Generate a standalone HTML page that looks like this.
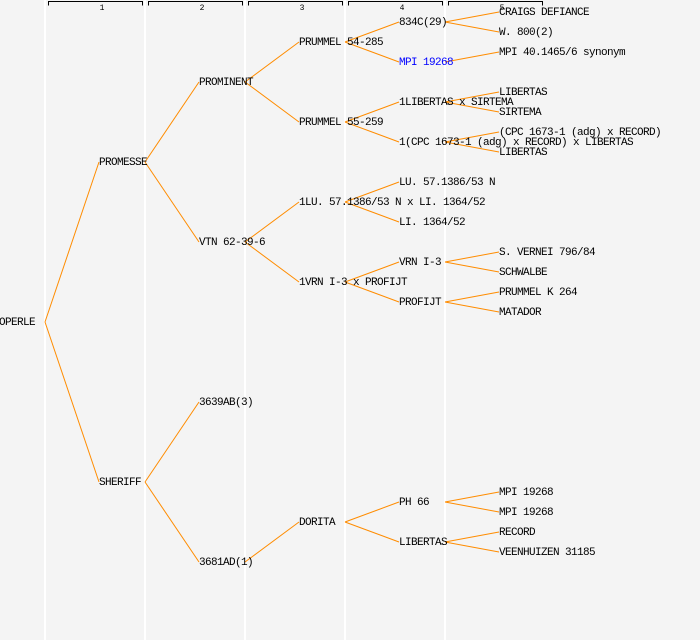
<!DOCTYPE html>
<html><head><style>
html,body{margin:0;padding:0;background:#f4f4f4;}
svg{display:block;}
text{font-family:"Liberation Mono","DejaVu Sans Mono",monospace;font-size:11px;letter-spacing:-0.6px;fill:#000;dominant-baseline:middle;}
</style></head><body>
<svg width="700" height="640" xmlns="http://www.w3.org/2000/svg">
<rect width="700" height="640" fill="#f4f4f4"/>
<g stroke="#fff" stroke-width="2">
<line x1="45" y1="0" x2="45" y2="640"/><line x1="145" y1="0" x2="145" y2="640"/><line x1="245" y1="0" x2="245" y2="640"/><line x1="345" y1="0" x2="345" y2="640"/><line x1="445" y1="0" x2="445" y2="640"/>
</g>
<g stroke="#000" stroke-width="1" fill="none">
<path d="M48.5 5.5V1.5H142.5V5.5"/><path d="M148.5 5.5V1.5H242.5V5.5"/><path d="M248.5 5.5V1.5H342.5V5.5"/><path d="M348.5 5.5V1.5H442.5V5.5"/><path d="M448.5 5.5V1.5H542.5V5.5"/>
</g>
<g text-anchor="middle">
<text x="102" y="8" style="font-size:8px;letter-spacing:0">1</text><text x="202" y="8" style="font-size:8px;letter-spacing:0">2</text><text x="302" y="8" style="font-size:8px;letter-spacing:0">3</text><text x="402" y="8" style="font-size:8px;letter-spacing:0">4</text><text x="502" y="8" style="font-size:8px;letter-spacing:0">5</text>
</g>
<g stroke="#ff8c00" stroke-width="1" fill="none">
<line x1="45" y1="322" x2="99" y2="162"/><line x1="45" y1="322" x2="99" y2="482"/>
<line x1="145" y1="162" x2="199" y2="82"/><line x1="145" y1="162" x2="199" y2="242"/>
<line x1="145" y1="482" x2="199" y2="402"/><line x1="145" y1="482" x2="199" y2="562"/>
<line x1="245" y1="82" x2="299" y2="42"/><line x1="245" y1="82" x2="299" y2="122"/>
<line x1="245" y1="242" x2="299" y2="202"/><line x1="245" y1="242" x2="299" y2="282"/>
<line x1="245" y1="562" x2="299" y2="522"/>
<line x1="345" y1="42" x2="399" y2="22"/><line x1="345" y1="42" x2="399" y2="62"/>
<line x1="345" y1="122" x2="399" y2="102"/><line x1="345" y1="122" x2="399" y2="142"/>
<line x1="345" y1="202" x2="399" y2="182"/><line x1="345" y1="202" x2="399" y2="222"/>
<line x1="345" y1="282" x2="399" y2="262"/><line x1="345" y1="282" x2="399" y2="302"/>
<line x1="345" y1="522" x2="399" y2="502"/><line x1="345" y1="522" x2="399" y2="542"/>
<line x1="445" y1="22" x2="499" y2="12"/><line x1="445" y1="22" x2="499" y2="32"/>
<line x1="445" y1="62" x2="499" y2="52"/>
<line x1="445" y1="102" x2="499" y2="92"/><line x1="445" y1="102" x2="499" y2="112"/>
<line x1="445" y1="142" x2="499" y2="132"/><line x1="445" y1="142" x2="499" y2="152"/>
<line x1="445" y1="262" x2="499" y2="252"/><line x1="445" y1="262" x2="499" y2="272"/>
<line x1="445" y1="302" x2="499" y2="292"/><line x1="445" y1="302" x2="499" y2="312"/>
<line x1="445" y1="502" x2="499" y2="492"/><line x1="445" y1="502" x2="499" y2="512"/>
<line x1="445" y1="542" x2="499" y2="532"/><line x1="445" y1="542" x2="499" y2="552"/>
</g>
<g>
<text x="-1" y="322">OPERLE</text>
<text x="99" y="162">PROMESSE</text><text x="99" y="482">SHERIFF</text>
<text x="199" y="82">PROMINENT</text><text x="199" y="242">VTN 62-39-6</text><text x="199" y="402">3639AB(3)</text><text x="199" y="562">3681AD(1)</text>
<text x="299" y="42">PRUMMEL 54-285</text><text x="299" y="122">PRUMMEL 55-259</text><text x="299" y="202">1LU. 57.1386/53 N x LI. 1364/52</text><text x="299" y="282">1VRN I-3 x PROFIJT</text><text x="299" y="522">DORITA</text>
<text x="399" y="22">834C(29)</text><text x="399" y="62" style="fill:#0000ff">MPI 19268</text><text x="399" y="102">1LIBERTAS x SIRTEMA</text><text x="399" y="142">1(CPC 1673-1 (adg) x RECORD) x LIBERTAS</text><text x="399" y="182">LU. 57.1386/53 N</text><text x="399" y="222">LI. 1364/52</text><text x="399" y="262">VRN I-3</text><text x="399" y="302">PROFIJT</text><text x="399" y="502">PH 66</text><text x="399" y="542">LIBERTAS</text>
<text x="499" y="12">CRAIGS DEFIANCE</text><text x="499" y="32">W. 800(2)</text><text x="499" y="52">MPI 40.1465/6 synonym</text><text x="499" y="92">LIBERTAS</text><text x="499" y="112">SIRTEMA</text><text x="499" y="132">(CPC 1673-1 (adg) x RECORD)</text><text x="499" y="152">LIBERTAS</text><text x="499" y="252">S. VERNEI 796/84</text><text x="499" y="272">SCHWALBE</text><text x="499" y="292">PRUMMEL K 264</text><text x="499" y="312">MATADOR</text><text x="499" y="492">MPI 19268</text><text x="499" y="512">MPI 19268</text><text x="499" y="532">RECORD</text><text x="499" y="552">VEENHUIZEN 31185</text>
</g>
</svg>
</body></html>
